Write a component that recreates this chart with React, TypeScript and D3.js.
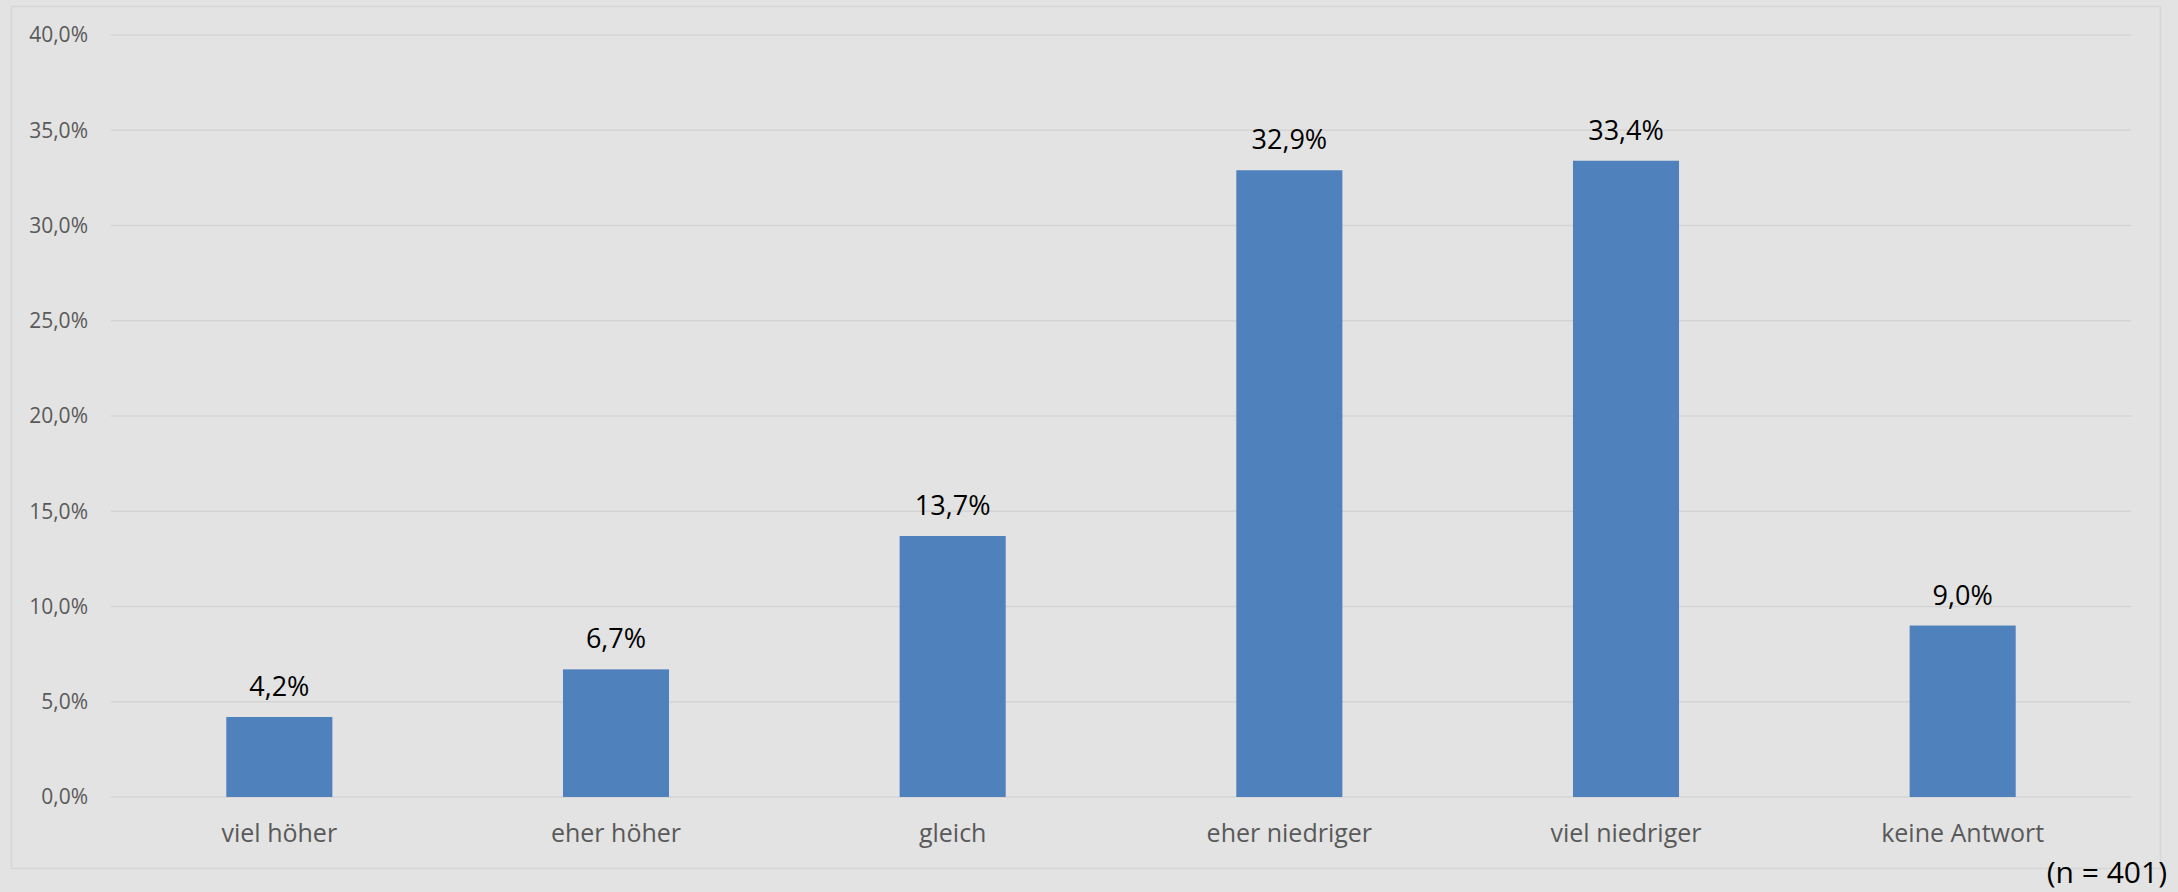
import { useEffect, useRef } from "react";
import * as d3 from "d3";

const categories = ["viel höher", "eher höher", "gleich", "eher niedriger", "viel niedriger", "keine Antwort"];
const values = [4.2, 6.7, 13.7, 32.9, 33.4, 9.0];
const yTicks = [0, 5, 10, 15, 20, 25, 30, 35, 40];
const note = "(n = 401)";

const W = 2178;
const H = 892;
const font = "'Open Sans', sans-serif";

const fmt = (v: number) => v.toFixed(1).replace(".", ",") + "%";

export default function App() {
  const ref = useRef<SVGSVGElement>(null);

  useEffect(() => {
    const svg = d3.select(ref.current);
    svg.selectAll("*").remove();

    const left = 111;
    const right = 2131;
    const top = 35;
    const bottom = 797;

    // background + chart border
    svg.append("rect").attr("width", W).attr("height", H).attr("fill", "#e3e3e3");
    svg
      .append("rect")
      .attr("x", 11.5)
      .attr("y", 6.5)
      .attr("width", 2149)
      .attr("height", 862)
      .attr("fill", "none")
      .attr("stroke", "#d6d6d6")
      .attr("stroke-width", 1.5);

    const x = d3.scaleBand().domain(categories).range([left, right]).padding(0);
    const y = d3.scaleLinear().domain([0, 40]).range([bottom, top]);

    // gridlines + y labels
    const g = svg.append("g");
    g.selectAll("line.grid")
      .data(yTicks)
      .join("line")
      .attr("class", "grid")
      .attr("x1", left)
      .attr("x2", right)
      .attr("y1", (d) => y(d))
      .attr("y2", (d) => y(d))
      .attr("stroke", "#d4d4d4")
      .attr("stroke-width", 1.5);

    g.selectAll("text.ylab")
      .data(yTicks)
      .join("text")
      .attr("class", "ylab")
      .attr("x", 88)
      .attr("y", (d) => y(d))
      .attr("dy", "0.35em")
      .attr("text-anchor", "end")
      .attr("font-family", font)
      .attr("font-size", 21)
      .attr("fill", "#595959")
      .text((d) => fmt(d));

    const bw = x.bandwidth() * 0.315;
    const data = categories.map((c, i) => ({ c, v: values[i] }));

    g.selectAll("rect.bar")
      .data(data)
      .join("rect")
      .attr("class", "bar")
      .attr("x", (d) => x(d.c)! + x.bandwidth() / 2 - bw / 2)
      .attr("y", (d) => y(d.v))
      .attr("width", bw)
      .attr("height", (d) => bottom - y(d.v))
      .attr("fill", "#4f81bd");

    g.selectAll("text.val")
      .data(data)
      .join("text")
      .attr("class", "val")
      .attr("x", (d) => x(d.c)! + x.bandwidth() / 2)
      .attr("y", (d) => y(d.v) - 21)
      .attr("text-anchor", "middle")
      .attr("font-family", font)
      .attr("font-size", 27)
      .attr("fill", "#000")
      .text((d) => fmt(d.v));

    g.selectAll("text.xlab")
      .data(categories)
      .join("text")
      .attr("class", "xlab")
      .attr("x", (d) => x(d)! + x.bandwidth() / 2)
      .attr("y", 842)
      .attr("text-anchor", "middle")
      .attr("font-family", font)
      .attr("font-size", 25)
      .attr("fill", "#595959")
      .text((d) => d);

    svg
      .append("text")
      .attr("x", 2167)
      .attr("y", 883)
      .attr("text-anchor", "end")
      .attr("font-family", font)
      .attr("font-size", 30)
      .attr("fill", "#000")
      .text(note);
  }, []);

  return (
    <svg
      ref={ref}
      width={W}
      height={H}
      style={{ position: "absolute", left: 0, top: 0, display: "block" }}
    />
  );
}
